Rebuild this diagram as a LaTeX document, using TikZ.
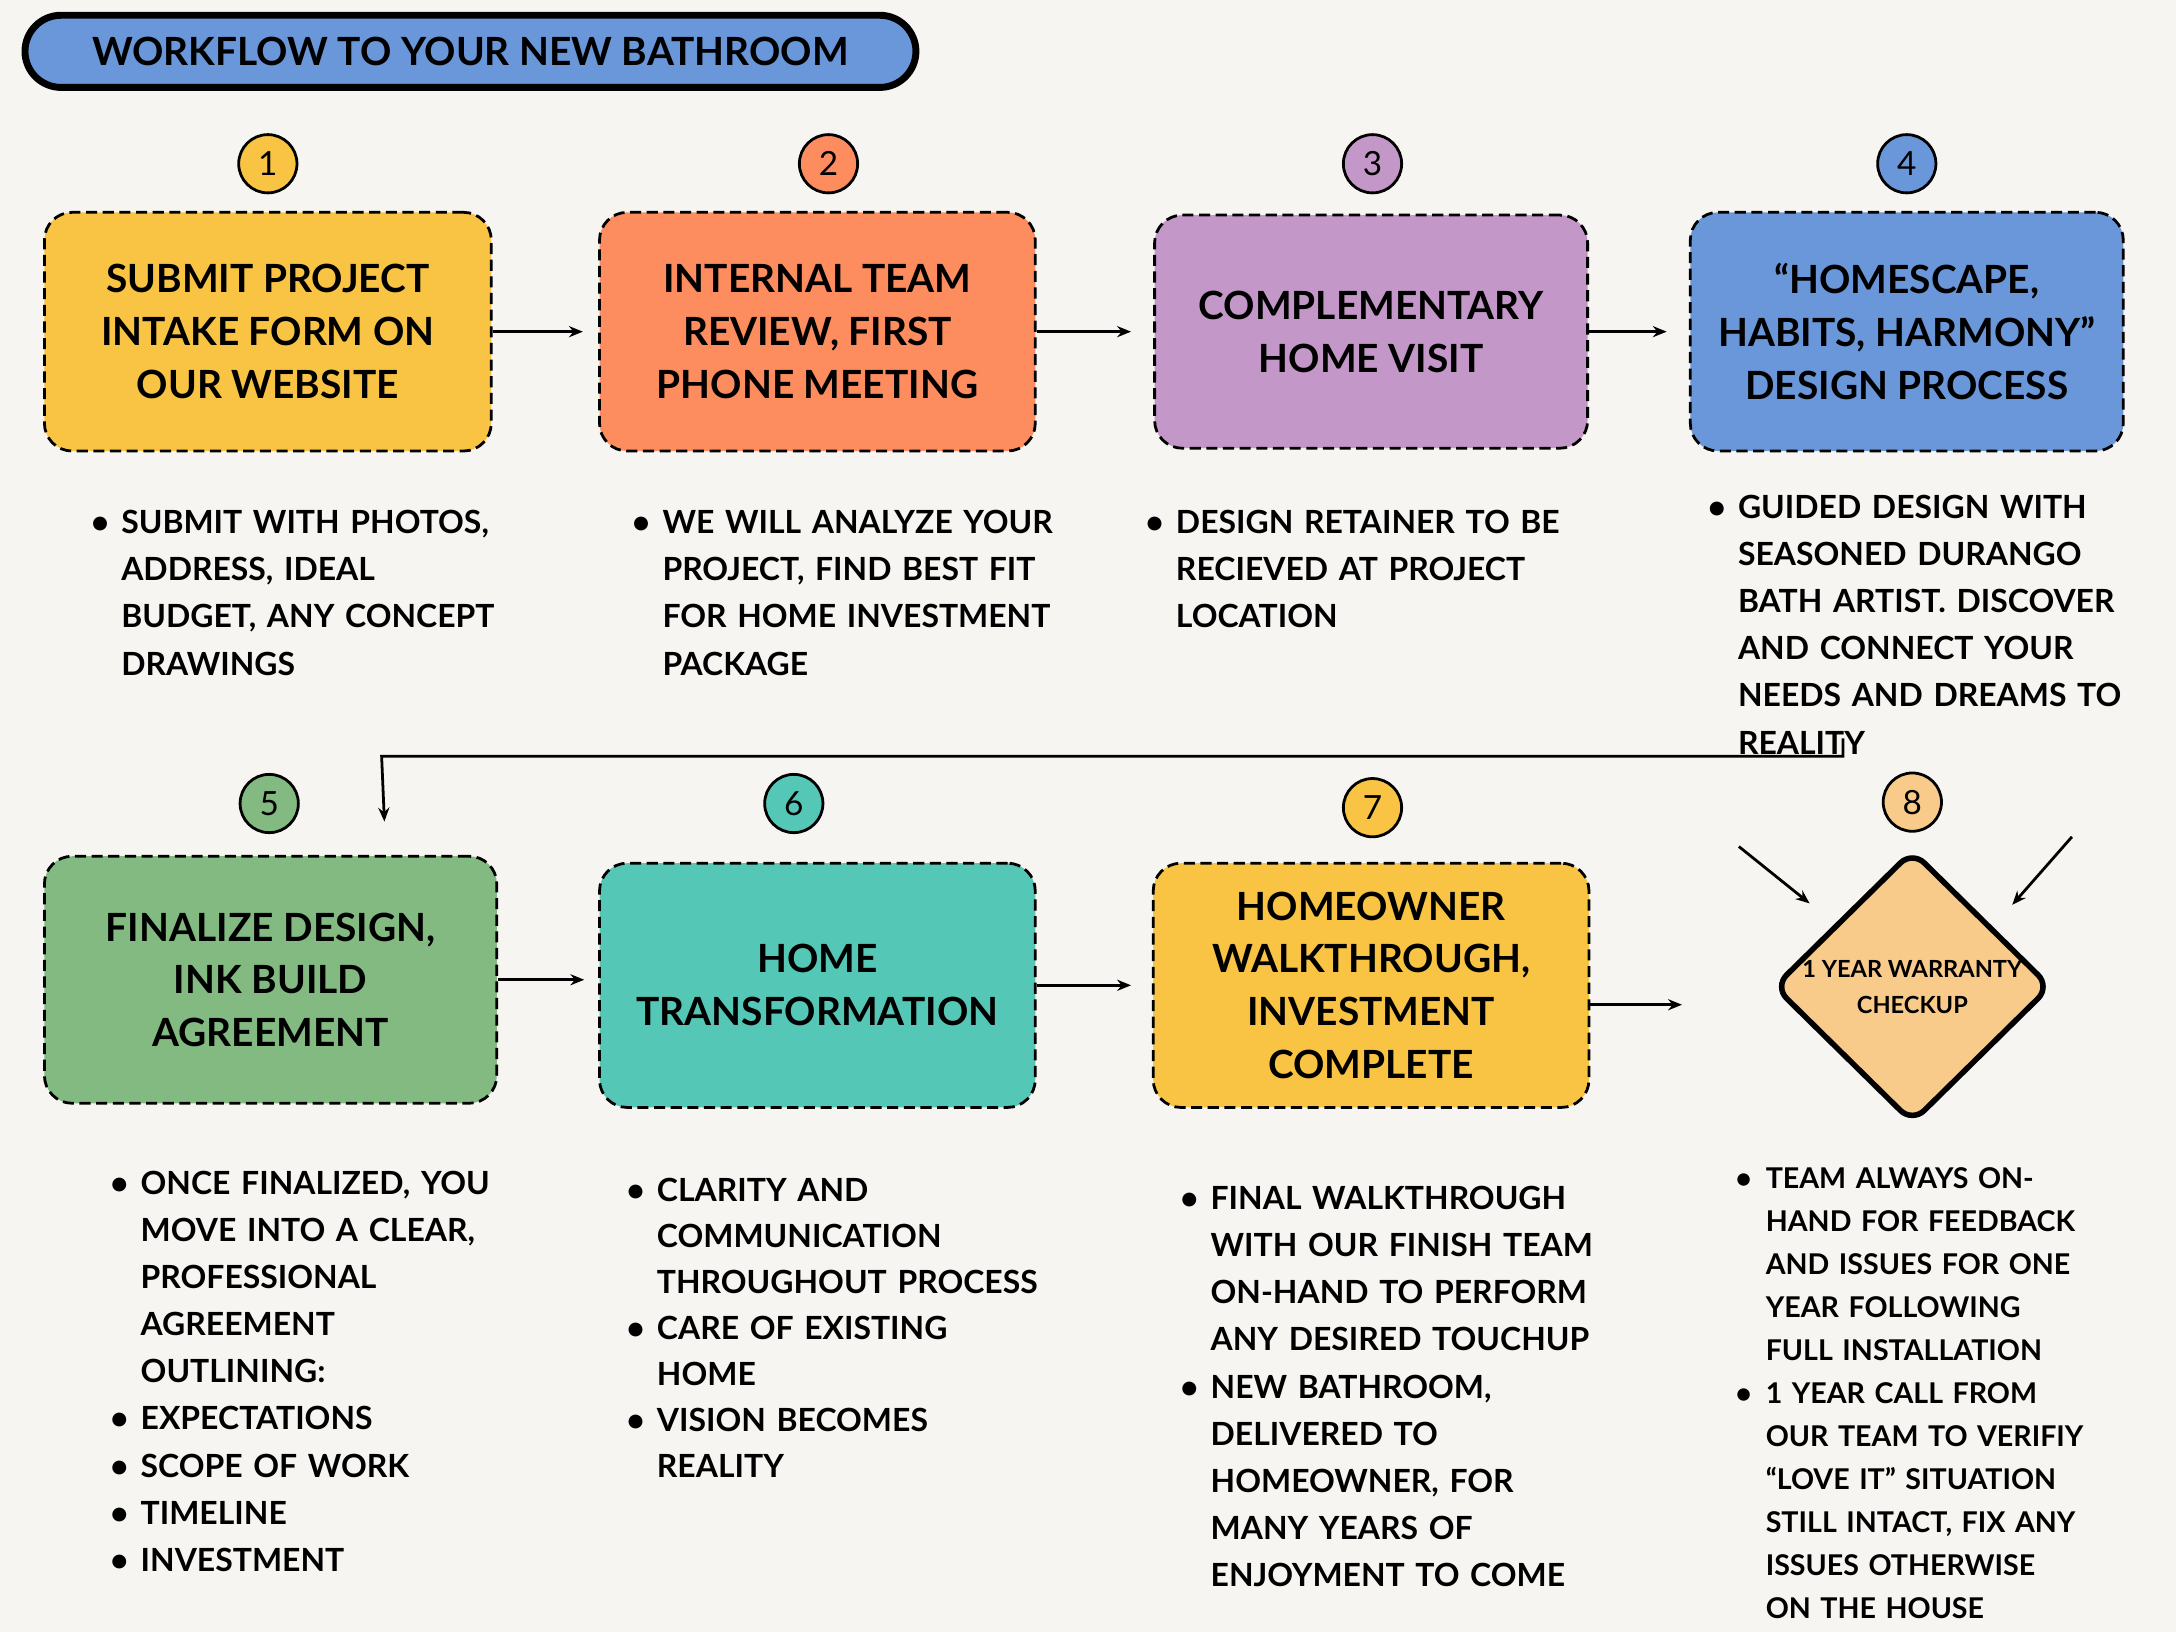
\documentclass[tikz,border=0pt]{standalone}
\usepackage{fontspec}
\setmainfont{Lato}
\usetikzlibrary{arrows.meta,shapes.geometric}
\definecolor{bg}{HTML}{F6F5F1}
\definecolor{cy}{HTML}{F9C443}
\definecolor{co}{HTML}{FD8C5F}
\definecolor{cp}{HTML}{C397C7}
\definecolor{cb}{HTML}{6A96DA}
\definecolor{cg}{HTML}{83BA82}
\definecolor{ct}{HTML}{55C7B6}
\definecolor{cpe}{HTML}{F9CB8A}
\newlength\bind
\setlength\bind{11pt}
\newcommand\itm{\par\noindent\hspace{-\bind}\makebox[\bind][l]{\textbullet}}
\begin{document}
\begin{tikzpicture}[x=0.5pt,y=-0.5pt,
 box/.style={draw=black,line width=1pt,dash pattern=on 4pt off 2pt,rounded corners=10pt,align=center,font=\fontsize{14}{19}\selectfont\bfseries},
 num/.style={circle,draw=black,line width=1pt,minimum size=21pt,inner sep=0pt,font=\fontsize{12}{12}\selectfont},
 bl/.style={anchor=north west,inner sep=0pt,text width=260pt,align=left,font=\fontsize{11.5}{17}\selectfont\bfseries,execute at begin node={\setlength\leftskip{\bind}}},
 arr/.style={-{Stealth[length=5pt,width=4pt]},line width=1pt}]
\useasboundingbox[fill=bg] (0,0) rectangle (1568,1176);
\node[draw=black,line width=2.5pt,fill=cb,rounded corners=13pt,minimum width=321pt,minimum height=26pt,font=\fontsize{14}{14}\selectfont\bfseries] (title) at (339,37) {WORKFLOW TO YOUR NEW BATHROOM};
% boxes
\node[box,fill=cy,minimum width=161pt,minimum height=86pt] (b1) at (193,239) {SUBMIT PROJECT\\INTAKE FORM ON\\OUR WEBSITE};
\node[box,fill=co,minimum width=157pt,minimum height=86pt] (b2) at (589,239) {INTERNAL TEAM\\REVIEW, FIRST\\PHONE MEETING};
\node[box,fill=cp,minimum width=156pt,minimum height=84pt] (b3) at (988,239) {COMPLEMENTARY\\HOME VISIT};
\node[box,fill=cb,minimum width=156pt,minimum height=86pt] (b4) at (1374,239) {“HOMESCAPE,\\HABITS, HARMONY”\\DESIGN PROCESS};
\node[box,fill=cg,minimum width=163pt,minimum height=89pt] (b5) at (195,706) {FINALIZE DESIGN,\\INK BUILD\\AGREEMENT};
\node[box,fill=ct,minimum width=157pt,minimum height=88pt] (b6) at (589,710) {HOME\\TRANSFORMATION};
\node[box,fill=cy,minimum width=157pt,minimum height=88pt] (b7) at (988,710) {HOMEOWNER\\WALKTHROUGH,\\INVESTMENT\\COMPLETE};
\node[diamond,draw=black,line width=2pt,fill=cpe,rounded corners=6pt,minimum width=100pt,minimum height=98pt,inner sep=0pt,align=center,font=\fontsize{8.5}{13}\selectfont\bfseries] (b8) at (1378,711) {1 YEAR WARRANTY\\CHECKUP};
% numbers
\node[num,fill=cy] (n1) at (193,118) {1};
\node[num,fill=co] (n2) at (597,118) {2};
\node[num,fill=cp] (n3) at (989,118) {3};
\node[num,fill=cb] (n4) at (1374,118) {4};
\node[num,fill=cg] (n5) at (194,579) {5};
\node[num,fill=ct] (n6) at (572,579) {6};
\node[num,fill=cy] (n7) at (989,582) {7};
\node[num,fill=cpe] (n8) at (1378,578) {8};
% arrows
\draw[arr] (b1.east) -- ++(65,0);
\draw[arr] (b2.east) -- ++(68,0);
\draw[arr] (b3.east) -- ++(56,0);
\draw[arr] (b5.east) -- ++(62,0);
\draw[arr] (b6.east) -- ++(68,0);
\coordinate (e7) at (1212,724);
\draw[arr] (b7.east |- e7) -- (e7);
\coordinate (c1) at (1328,532);
\coordinate (c2) at (277,592);
\draw[arr] (c1) -- (1328,545) -- (275,545) -- (c2);
\coordinate (d1) at (1253,610); \coordinate (d2) at (1304,651);
\coordinate (d3) at (1493,603); \coordinate (d4) at (1450,652);
\draw[arr] (d1) -- (d2);
\draw[arr] (d3) -- (d4);
% bullets
\node[bl] (t1) at (65,350) {\itm SUBMIT WITH PHOTOS,\newline ADDRESS, IDEAL\newline BUDGET, ANY CONCEPT\newline DRAWINGS};
\node[bl] (t2) at (455,350) {\itm WE WILL ANALYZE YOUR\newline PROJECT, FIND BEST FIT\newline FOR HOME INVESTMENT\newline PACKAGE};
\node[bl] (t3) at (825,350) {\itm DESIGN RETAINER TO BE\newline RECIEVED AT PROJECT\newline LOCATION};
\node[bl] (t4) at (1230,339) {\itm GUIDED DESIGN WITH\newline SEASONED DURANGO\newline BATH ARTIST. DISCOVER\newline AND CONNECT YOUR\newline NEEDS AND DREAMS TO\newline REALITY};
\node[bl] (t5) at (79,826) {\itm ONCE FINALIZED, YOU\newline MOVE INTO A CLEAR,\newline PROFESSIONAL\newline AGREEMENT\newline OUTLINING:\itm EXPECTATIONS\itm SCOPE OF WORK\itm TIMELINE\itm INVESTMENT};
\node[bl,font=\fontsize{11.5}{16.6}\selectfont\bfseries] (t6) at (451,832) {\itm CLARITY AND\newline COMMUNICATION\newline THROUGHOUT PROCESS\itm CARE OF EXISTING\newline HOME\itm VISION BECOMES\newline REALITY};
\node[bl] (t7) at (850,837) {\itm FINAL WALKTHROUGH\newline WITH OUR FINISH TEAM\newline ON-HAND TO PERFORM\newline ANY DESIRED TOUCHUP\itm NEW BATHROOM,\newline DELIVERED TO\newline HOMEOWNER, FOR\newline MANY YEARS OF\newline ENJOYMENT TO COME};
\node[bl,font=\fontsize{10.3}{15.5}\selectfont\bfseries] (t8) at (1250,825) {\itm TEAM ALWAYS ON-\newline HAND FOR FEEDBACK\newline AND ISSUES FOR ONE\newline YEAR FOLLOWING\newline FULL INSTALLATION\itm 1 YEAR CALL FROM\newline OUR TEAM TO VERIFIY\newline “LOVE IT” SITUATION\newline STILL INTACT, FIX ANY\newline ISSUES OTHERWISE\newline ON THE HOUSE};
\end{tikzpicture}
\end{document}
